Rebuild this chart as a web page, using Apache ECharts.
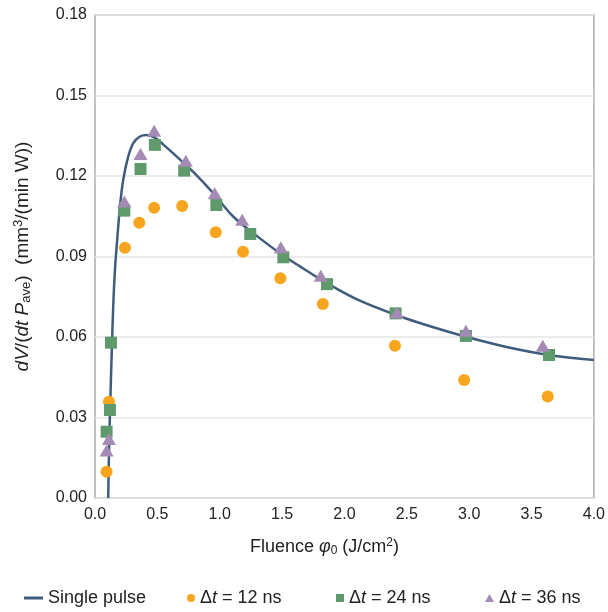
<!DOCTYPE html>
<html>
<head>
<meta charset="utf-8">
<style>
  html, body { margin: 0; padding: 0; background: #fff; }
  #chart { width: 608px; height: 612px; }
</style>
<script src="https://cdn.jsdelivr.net/npm/echarts@6/dist/echarts.min.js"></script>
</head>
<body>
<div id="chart"></div>
<script>
// Single-pulse model curve: fluence (J/cm^2) and removal rate per average power
const curveX = [0.106, 0.112, 0.120, 0.134, 0.146, 0.160, 0.178, 0.200, 0.226, 0.266, 0.306, 0.360, 0.414, 0.480, 0.546, 0.680, 0.786, 0.946, 1.106, 1.266, 1.480, 1.640, 1.854, 2.110, 2.414, 2.700, 2.974, 3.300, 3.640, 4.000];
const curveY = [0.0000, 0.0167, 0.0316, 0.0540, 0.0713, 0.0850, 0.0962, 0.1086, 0.1185, 0.1272, 0.1322, 0.1347, 0.1353, 0.1343, 0.1318, 0.1262, 0.1216, 0.1137, 0.1050, 0.0988, 0.0913, 0.0864, 0.0802, 0.0738, 0.0682, 0.0638, 0.0601, 0.0563, 0.0533, 0.0514];

// Burst measurements, Δt = 12 ns
const dt12X = [0.093, 0.112, 0.240, 0.355, 0.474, 0.699, 0.968, 1.187, 1.486, 1.827, 2.405, 2.960, 3.630];
const dt12Y = [0.0098, 0.0359, 0.0933, 0.1026, 0.1082, 0.1088, 0.0990, 0.0918, 0.0819, 0.0723, 0.0567, 0.0440, 0.0378];

// Burst measurements, Δt = 24 ns
const dt24X = [0.093, 0.120, 0.128, 0.235, 0.365, 0.480, 0.715, 0.973, 1.245, 1.510, 1.860, 2.410, 2.974, 3.640];
const dt24Y = [0.0247, 0.0328, 0.0579, 0.1071, 0.1226, 0.1316, 0.1220, 0.1092, 0.0984, 0.0897, 0.0797, 0.0688, 0.0604, 0.0533];

// Burst measurements, Δt = 36 ns
const dt36X = [0.093, 0.112, 0.235, 0.365, 0.474, 0.728, 0.960, 1.180, 1.490, 1.810, 2.420, 2.974, 3.590];
const dt36Y = [0.0173, 0.0216, 0.1101, 0.1278, 0.1365, 0.1253, 0.1132, 0.1033, 0.0931, 0.0825, 0.0688, 0.0620, 0.0564];

const xTicks = { min: 0, max: 4, step: 0.5 };
const yTicks = { min: 0, max: 0.18, step: 0.03 };

const pairs = (xs, ys) => xs.map((x, i) => [x, ys[i]]);

const FONT = 'Liberation Sans, Arial, sans-serif';
const INK = '#222';
const C_LINE = '#3f5c7e';
const C_12 = '#f7a51f';
const C_24 = '#5f9a6c';
const C_36 = '#a48ab4';

const legendText = {
  fontFamily: FONT, fontSize: 18, color: INK,
  rich: {
    n: { fontFamily: FONT, fontSize: 18, color: INK },
    i: { fontFamily: FONT, fontSize: 18, color: INK, fontStyle: 'italic' }
  }
};
const dtFormatter = name => {
  const m = name.match(/(\d+)/);
  return m ? '{n|Δ}{i|t}{n| = ' + m[1] + ' ns}' : name;
};

const makeRich = size => ({
  n: { fontFamily: FONT, fontSize: size, color: INK },
  i: { fontFamily: FONT, fontSize: size, color: INK, fontStyle: 'italic' },
  s: { fontFamily: FONT, fontSize: Math.round(size * 0.67), color: INK, verticalAlign: 'bottom', padding: [7, 0, 0, 0] },
  p: { fontFamily: FONT, fontSize: Math.round(size * 0.67), color: INK, verticalAlign: 'top', padding: [0, 0, 8, 0] }
});

const chart = echarts.init(document.getElementById('chart'), null, { renderer: 'canvas' });
chart.setOption({
  animation: false,
  backgroundColor: '#fff',
  grid: {
    left: 95, right: 13, top: 15, bottom: 114,
    show: true, borderColor: '#adadad', borderWidth: 1.5, backgroundColor: 'transparent'
  },
  xAxis: {
    type: 'value', min: xTicks.min, max: xTicks.max, interval: xTicks.step,
    axisLine: { show: false }, axisTick: { show: false }, splitLine: { show: false },
    axisLabel: { fontFamily: FONT, fontSize: 16, color: INK, margin: 9,
      formatter: v => v.toFixed(1) },
    name: '{n|Fluence }{i|φ}{s|0}{n| (J/cm}{p|2}{n|)}',
    nameLocation: 'middle', nameGap: 39,
    nameTextStyle: { padding: [0, 40, 0, 0], rich: makeRich(18) }
  },
  yAxis: {
    type: 'value', min: yTicks.min, max: yTicks.max, interval: yTicks.step,
    axisLine: { show: false }, axisTick: { show: false },
    splitLine: { show: true, lineStyle: { color: '#e6e6e6', width: 1.5 } },
    axisLabel: { fontFamily: FONT, fontSize: 16, color: INK, margin: 8,
      formatter: v => v.toFixed(2) },
    name: '{i|dV}{n|/(}{i|dt P}{s|ave}{n|)  (mm}{p|3}{n|/(min W))}',
    nameLocation: 'middle', nameGap: 62, nameRotate: 90,
    nameTextStyle: { padding: [0, 0, 0, 0], rich: makeRich(19) }
  },
  legend: [
    { data: ['Single pulse'], left: 24, top: 589, padding: 0, icon: 'rect', itemWidth: 19, itemHeight: 3,
      textStyle: legendText, selectedMode: false },
    { data: ['Δt = 12 ns'], left: 187, top: 589, padding: 0, icon: 'circle', itemWidth: 8, itemHeight: 8,
      textStyle: legendText, formatter: dtFormatter, selectedMode: false },
    { data: ['Δt = 24 ns'], left: 336, top: 589, padding: 0, icon: 'rect', itemWidth: 8, itemHeight: 8,
      textStyle: legendText, formatter: dtFormatter, selectedMode: false },
    { data: ['Δt = 36 ns'], left: 485, top: 589, padding: 0, icon: 'triangle', itemWidth: 9, itemHeight: 8,
      textStyle: legendText, formatter: dtFormatter, selectedMode: false }
  ],
  series: [
    {
      name: 'Single pulse', type: 'line', data: pairs(curveX, curveY),
      smooth: 0.35, showSymbol: false, symbol: 'none',
      lineStyle: { color: C_LINE, width: 2.5 }, itemStyle: { color: C_LINE }, z: 2
    },
    {
      name: 'Δt = 12 ns', type: 'scatter', data: pairs(dt12X, dt12Y),
      symbol: 'circle', symbolSize: 12, itemStyle: { color: C_12, opacity: 1 }, z: 3
    },
    {
      name: 'Δt = 24 ns', type: 'scatter', data: pairs(dt24X, dt24Y),
      symbol: 'rect', symbolSize: 12, itemStyle: { color: C_24, opacity: 1 }, z: 3
    },
    {
      name: 'Δt = 36 ns', type: 'scatter', data: pairs(dt36X, dt36Y),
      symbol: 'triangle', symbolSize: [14, 12], symbolOffset: [0, -1], itemStyle: { color: C_36, opacity: 1 }, z: 4
    }
  ]
});
</script>
</body>
</html>
